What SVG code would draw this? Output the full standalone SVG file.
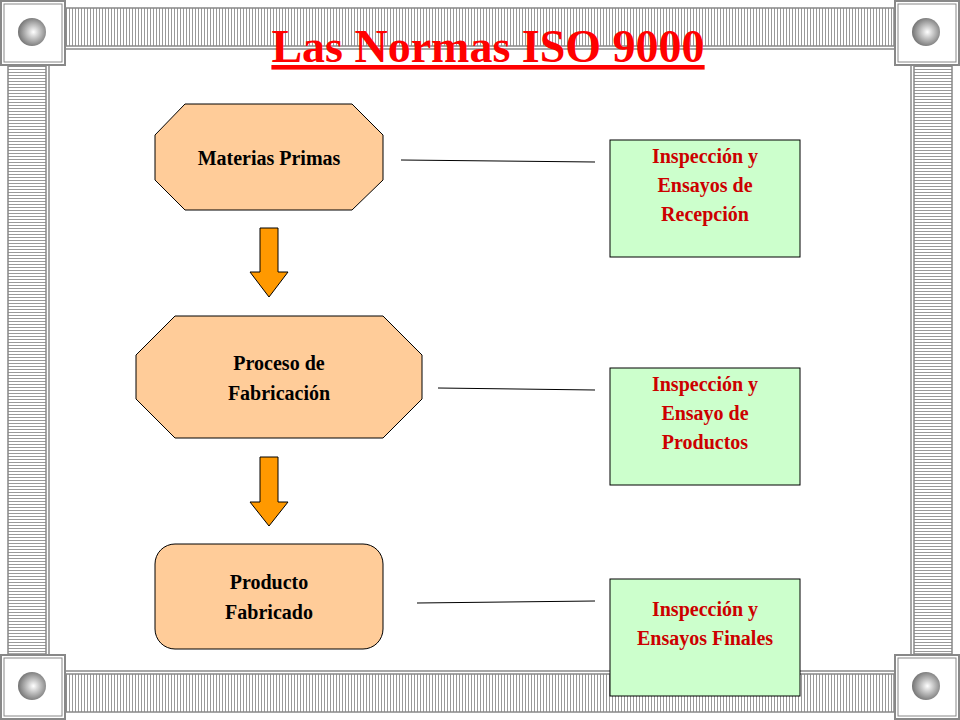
<svg xmlns="http://www.w3.org/2000/svg" width="960" height="720" viewBox="0 0 960 720">
<defs>
<pattern id="vh" width="3" height="10" patternUnits="userSpaceOnUse"><rect width="3" height="10" fill="#fff"/><rect width="1" height="10" fill="#999"/></pattern>
<pattern id="hh" width="10" height="3" patternUnits="userSpaceOnUse"><rect width="10" height="3" fill="#fff"/><rect width="10" height="1" fill="#999"/></pattern>
<radialGradient id="ball" cx="0.55" cy="0.5" r="0.6"><stop offset="0" stop-color="#fff"/><stop offset="1" stop-color="#666"/></radialGradient>
<g id="corner"><rect x="1" y="1" width="64" height="64" fill="#fff" stroke="#888" stroke-width="2"/><rect x="4" y="4" width="58" height="58" fill="none" stroke="#888" stroke-width="1"/><circle cx="32" cy="32" r="14" fill="url(#ball)"/></g>
</defs>
<style>
.strip{stroke:#888;stroke-width:1.5}
.node{fill:#ffcc99;stroke:#000;stroke-width:1}
.box{fill:#ccffcc;stroke:#000;stroke-width:1}
.nt{font-family:"Liberation Serif",serif;font-weight:bold;font-size:20px;text-anchor:middle;fill:#000}
.bt{font-family:"Liberation Serif",serif;font-weight:bold;font-size:20px;text-anchor:middle;fill:#cc0000}
.arr{fill:#ff9900;stroke:#000;stroke-width:1}
</style>
<rect width="960" height="720" fill="#fff"/>
<g id="frame">
<rect class="strip" x="66" y="8" width="828" height="38" fill="url(#vh)"/>
<line class="strip" x1="66" y1="49" x2="894" y2="49"/>
<rect class="strip" x="66" y="674" width="828" height="38" fill="url(#vh)"/>
<line class="strip" x1="66" y1="671" x2="894" y2="671"/>
<rect class="strip" x="8" y="66" width="38" height="588" fill="url(#hh)"/>
<line class="strip" x1="49" y1="66" x2="49" y2="654"/>
<rect class="strip" x="914" y="66" width="38" height="588" fill="url(#hh)"/>
<line class="strip" x1="911" y1="66" x2="911" y2="654"/>
<use href="#corner"/>
<use href="#corner" x="894"/>
<use href="#corner" y="654"/>
<use href="#corner" x="894" y="654"/>
</g>
<g id="title"><text x="488" y="62" font-family="Liberation Serif,serif" font-weight="bold" font-size="46" fill="#ff0000" text-anchor="middle" text-decoration="underline">Las Normas ISO 9000</text></g>
<g id="n1"><polygon class="node" points="185,104 352,104 383,135 383,180 352,210 185,210 155,180 155,135"/><text class="nt" x="269" y="165">Materias Primas</text></g>
<g id="n2"><polygon class="node" points="175,316 383,316 422,355 422,399 383,438 175,438 136,399 136,355"/><text class="nt" x="279" y="370">Proceso de</text><text class="nt" x="279" y="400">Fabricación</text></g>
<g id="n3"><rect class="node" x="155" y="544" width="228" height="105" rx="20"/><text class="nt" x="269" y="589">Producto</text><text class="nt" x="269" y="619">Fabricado</text></g>
<g id="b1"><rect class="box" x="610" y="140" width="190" height="117"/><text class="bt" x="705" y="163">Inspección y</text><text class="bt" x="705" y="192">Ensayos de</text><text class="bt" x="705" y="221">Recepción</text></g>
<g id="b2"><rect class="box" x="610" y="368" width="190" height="117"/><text class="bt" x="705" y="391">Inspección y</text><text class="bt" x="705" y="420">Ensayo de</text><text class="bt" x="705" y="449">Productos</text></g>
<g id="b3"><rect class="box" x="610" y="579" width="190" height="117"/><text class="bt" x="705" y="616">Inspección y</text><text class="bt" x="705" y="645">Ensayos Finales</text></g>
<g id="connectors" stroke="#000" stroke-width="1">
<line x1="401" y1="160" x2="595" y2="162"/>
<line x1="438" y1="388" x2="595" y2="390"/>
<line x1="417" y1="603" x2="595" y2="601"/>
<polygon class="arr" points="260,228 278,228 278,272 288,272 269,297 250,272 260,272"/>
<polygon class="arr" points="260,457 278,457 278,502 288,502 269,526 250,502 260,502"/>
</g>
</svg>
